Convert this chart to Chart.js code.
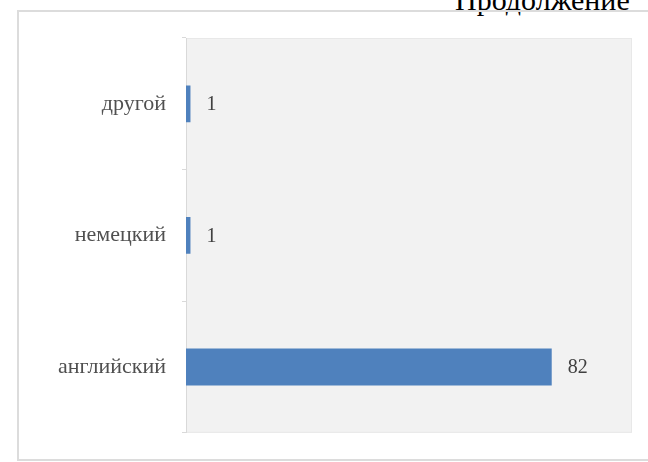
<!DOCTYPE html>
<html>
<head>
<meta charset="utf-8">
<script src="https://cdn.jsdelivr.net/npm/chart.js@4.4.0/dist/chart.umd.min.js"></script>
<style>
  body { margin: 0; background: #fff; }
  #wrap { position: relative; width: 648px; height: 462px; overflow: hidden; }
  #head { position: absolute; top: -17px; left: 455px; font-family: "Liberation Serif", serif; font-size: 30px; color: #000; white-space: nowrap; }
  #box { position: absolute; left: 17px; top: 10px; width: 660px; height: 451px; border: 2px solid #dcdcdc; box-sizing: border-box; }
  #chart { position: absolute; left: 0; top: 0; }
</style>
</head>
<body>
<div id="wrap">
  <div id="head">Продолжение</div>
  <div id="box"></div>
  <canvas id="chart" width="648" height="462"></canvas>
</div>
<script>
// данные
var categorias = ['другой', 'немецкий', 'английский'];
var valores = [1, 1, 82];

// fondo gris del area del grafico
var fondoPlot = {
  id: 'fondoPlot',
  beforeDraw: function (chart) {
    var a = chart.chartArea;
    var ctx = chart.ctx;
    ctx.save();
    ctx.fillStyle = '#f2f2f2';
    ctx.fillRect(a.left, a.top, a.right - a.left, a.bottom - a.top);
    ctx.strokeStyle = '#e8e8e8';
    ctx.lineWidth = 1;
    ctx.strokeRect(a.left + 0.5, a.top + 0.5, a.right - a.left - 1, a.bottom - a.top - 1);
    ctx.restore();
  }
};

// etiquetas de valor al final de cada barra
var etiquetas = {
  id: 'etiquetas',
  afterDatasetsDraw: function (chart) {
    var ctx = chart.ctx;
    var meta = chart.getDatasetMeta(0);
    ctx.save();
    ctx.font = '20px "Liberation Serif"';
    ctx.fillStyle = '#404040';
    ctx.textBaseline = 'middle';
    meta.data.forEach(function (bar, i) {
      ctx.fillText(String(valores[i]), bar.x + 16, bar.y + 1);
    });
    ctx.restore();
  }
};

var grafico = new Chart(document.getElementById('chart'), {
  type: 'bar',
  data: {
    labels: categorias,
    datasets: [{
      data: valores,
      backgroundColor: '#4f81bd',
      borderWidth: 0,
      categoryPercentage: 1,
      barPercentage: 0.28
    }]
  },
  options: {
    indexAxis: 'y',
    responsive: false,
    animation: false,
    layout: { padding: { top: 38, right: 16, bottom: 21, left: 0 } },
    plugins: { legend: { display: false }, tooltip: { enabled: false } },
    scales: {
      x: { display: false, min: 0, max: 100 },
      y: {
        afterFit: function (s) { s.width = 186; },
        border: { color: '#d9d9d9', width: 1 },
        grid: { drawOnChartArea: false, color: '#d9d9d9', tickLength: 4 },
        ticks: { color: '#505050', padding: 16, font: { family: 'Liberation Serif', size: 22 } }
      }
    }
  },
  plugins: [fondoPlot, etiquetas]
});
</script>
</body>
</html>
